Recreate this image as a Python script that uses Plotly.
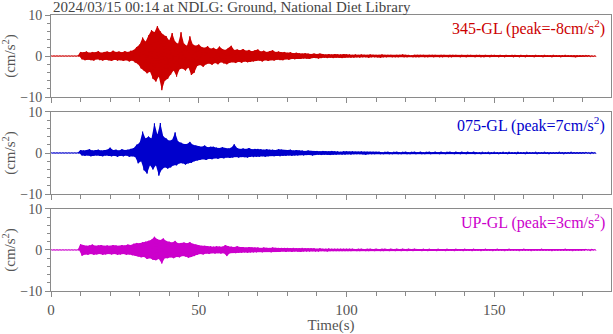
import plotly.graph_objects as go
from plotly.subplots import make_subplots

# ---------------- data ----------------
# per-second positive and negative peak amplitudes (cm/s^2), t = 0..184 s
seconds = list(range(185))

ns_up = [
    0.05, 0.05, 0.05, 0.05, 0.05, 0.05, 0.05, 0.05, 0.05, 0.05,
    1.0, 0.9, 1.1, 0.8, 1.0, 0.9, 1.2, 0.8, 1.0, 1.1,
    0.9, 1.3, 1.0, 1.1, 0.9, 1.2, 1.0, 1.3, 1.5, 2.2,
    2.8, 4.5, 3.5, 5.0, 6.3, 5.8, 7.3, 6.0, 5.2, 4.8,
    3.8, 5.6, 3.5, 3.0, 5.8, 3.0, 2.5, 4.8, 2.8, 2.5,
    2.8, 2.2, 2.0, 2.4, 1.8, 2.0, 1.6, 2.3, 1.7, 1.5,
    1.9, 2.5, 1.5, 1.6, 1.4, 1.7, 1.3, 1.5, 1.2, 1.4,
    1.6, 1.1, 1.3, 1.0, 1.2, 1.4, 1.0, 1.1, 0.9, 1.0,
    0.8, 0.9, 0.7, 0.8, 0.7, 0.6, 0.7, 0.6, 0.5, 0.6,
    0.5, 0.6, 0.5, 0.4, 0.5, 0.4, 0.5, 0.4, 0.4, 0.5,
    0.4, 0.4, 0.3, 0.4, 0.3, 0.4, 0.3, 0.3, 0.4, 0.3,
    0.3, 0.3, 0.4, 0.3, 0.3, 0.3, 0.2, 0.3, 0.3, 0.4,
    0.3, 0.3, 0.2, 0.3, 0.3, 0.3, 0.3, 0.2, 0.3, 0.3,
    0.3, 0.2, 0.3, 0.3, 0.2, 0.3, 0.3, 0.3, 0.2, 0.3,
    0.2, 0.3, 0.3, 0.2, 0.3, 0.3, 0.2, 0.3, 0.2, 0.3,
    0.3, 0.2, 0.3, 0.2, 0.3, 0.2, 0.3, 0.3, 0.2, 0.3,
    0.2, 0.3, 0.2, 0.2, 0.3, 0.2, 0.2, 0.3, 0.2, 0.2,
    0.3, 0.2, 0.2, 0.2, 0.3, 0.2, 0.2, 0.2, 0.2, 0.2,
    0.2, 0.2, 0.2, 0.1, 0.1,
]
ns_down = [
    0.05, 0.05, 0.05, 0.05, 0.05, 0.05, 0.05, 0.05, 0.05, 0.05,
    0.8, 1.0, 0.9, 1.0, 1.1, 0.8, 1.0, 1.1, 0.9, 1.0,
    1.2, 0.9, 1.1, 1.0, 1.2, 1.0, 1.3, 1.1, 1.6, 2.0,
    3.0, 3.5, 4.2, 3.8, 5.5, 6.2, 5.0, 8.3, 6.0, 5.5,
    4.5, 3.5, 5.0, 3.2, 3.0, 3.5, 2.8, 4.6, 4.0, 2.4,
    2.2, 2.6, 2.0, 1.8, 2.1, 1.7, 2.0, 1.5, 1.8, 2.0,
    1.6, 1.5, 1.7, 1.4, 1.6, 1.3, 1.5, 1.4, 1.3, 1.2,
    1.1, 1.3, 1.0, 1.2, 1.0, 1.1, 0.9, 1.0, 1.0, 0.8,
    0.9, 0.7, 0.8, 0.7, 0.7, 0.6, 0.6, 0.7, 0.5, 0.5,
    0.6, 0.5, 0.4, 0.5, 0.4, 0.5, 0.4, 0.4, 0.5, 0.4,
    0.3, 0.4, 0.4, 0.3, 0.4, 0.3, 0.3, 0.4, 0.3, 0.3,
    0.3, 0.4, 0.3, 0.3, 0.2, 0.3, 0.3, 0.3, 0.2, 0.3,
    0.3, 0.2, 0.3, 0.3, 0.3, 0.2, 0.3, 0.3, 0.2, 0.3,
    0.2, 0.3, 0.3, 0.2, 0.3, 0.3, 0.2, 0.2, 0.3, 0.2,
    0.3, 0.2, 0.2, 0.3, 0.2, 0.3, 0.3, 0.2, 0.3, 0.2,
    0.2, 0.3, 0.2, 0.3, 0.2, 0.2, 0.3, 0.2, 0.3, 0.2,
    0.3, 0.2, 0.2, 0.3, 0.2, 0.2, 0.3, 0.2, 0.2, 0.3,
    0.2, 0.2, 0.3, 0.2, 0.2, 0.2, 0.2, 0.3, 0.2, 0.2,
    0.2, 0.1, 0.2, 0.1, 0.1,
]

ew_up = [
    0.05, 0.05, 0.05, 0.05, 0.05, 0.05, 0.05, 0.05, 0.05, 0.05,
    0.7, 0.6, 0.7, 0.9, 0.6, 0.7, 0.8, 0.6, 0.7, 0.8,
    1.3, 0.7, 0.8, 0.6, 0.9, 0.7, 0.8, 1.0, 1.2, 2.0,
    2.5, 5.2, 3.5, 4.0, 3.5, 7.2, 4.5, 7.3, 4.0, 3.5,
    3.0, 3.2, 5.0, 2.8, 2.5, 2.2, 2.2, 2.7, 2.0, 1.8,
    1.7, 1.5, 1.8, 1.4, 1.5, 1.5, 1.3, 1.2, 1.4, 1.2,
    1.1, 1.3, 2.1, 1.2, 1.0, 1.1, 1.0, 1.2, 0.9, 1.0,
    1.0, 0.9, 0.8, 0.9, 0.8, 0.8, 0.7, 0.9, 0.8, 0.7,
    0.7, 0.8, 0.6, 0.7, 0.6, 0.6, 0.5, 0.6, 0.5, 0.5,
    0.5, 0.4, 0.5, 0.4, 0.4, 0.5, 0.4, 0.4, 0.3, 0.4,
    0.4, 0.3, 0.4, 0.3, 0.3, 0.4, 0.3, 0.3, 0.3, 0.3,
    0.3, 0.3, 0.2, 0.3, 0.3, 0.2, 0.3, 0.3, 0.2, 0.3,
    0.3, 0.2, 0.3, 0.3, 0.2, 0.3, 0.2, 0.3, 0.3, 0.2,
    0.3, 0.2, 0.3, 0.2, 0.3, 0.3, 0.2, 0.3, 0.2, 0.3,
    0.2, 0.3, 0.2, 0.3, 0.2, 0.2, 0.3, 0.2, 0.3, 0.2,
    0.3, 0.2, 0.2, 0.3, 0.2, 0.3, 0.2, 0.2, 0.3, 0.2,
    0.2, 0.3, 0.2, 0.2, 0.3, 0.2, 0.2, 0.3, 0.2, 0.2,
    0.2, 0.2, 0.3, 0.2, 0.2, 0.2, 0.3, 0.2, 0.2, 0.2,
    0.2, 0.2, 0.1, 0.2, 0.1,
]
ew_down = [
    0.05, 0.05, 0.05, 0.05, 0.05, 0.05, 0.05, 0.05, 0.05, 0.05,
    0.6, 0.7, 0.6, 0.8, 0.7, 0.6, 0.7, 0.8, 0.6, 0.7,
    0.8, 0.7, 0.9, 0.7, 0.8, 0.6, 0.9, 0.8, 1.0, 2.5,
    2.0, 4.2, 5.0, 3.0, 4.0, 3.0, 5.5, 4.0, 3.5, 3.8,
    3.5, 3.0, 3.0, 2.5, 2.5, 2.8, 2.5, 2.4, 2.0, 1.8,
    1.6, 1.5, 1.7, 1.4, 1.5, 1.3, 1.4, 1.2, 1.3, 1.1,
    1.2, 1.1, 1.0, 1.1, 1.0, 1.0, 1.1, 0.9, 1.0, 0.9,
    0.9, 0.8, 0.9, 0.8, 0.7, 0.8, 0.7, 0.8, 0.7, 0.7,
    0.6, 0.7, 0.6, 0.6, 0.5, 0.6, 0.5, 0.5, 0.6, 0.5,
    0.4, 0.5, 0.4, 0.4, 0.5, 0.4, 0.4, 0.3, 0.4, 0.4,
    0.3, 0.4, 0.3, 0.3, 0.3, 0.3, 0.4, 0.3, 0.3, 0.3,
    0.2, 0.3, 0.3, 0.2, 0.3, 0.3, 0.2, 0.3, 0.3, 0.2,
    0.3, 0.3, 0.2, 0.3, 0.2, 0.3, 0.3, 0.2, 0.3, 0.2,
    0.2, 0.3, 0.2, 0.3, 0.2, 0.2, 0.3, 0.2, 0.3, 0.2,
    0.3, 0.2, 0.2, 0.3, 0.2, 0.3, 0.2, 0.2, 0.3, 0.2,
    0.2, 0.3, 0.2, 0.2, 0.3, 0.2, 0.2, 0.3, 0.2, 0.2,
    0.3, 0.2, 0.2, 0.2, 0.3, 0.2, 0.2, 0.2, 0.3, 0.2,
    0.2, 0.2, 0.2, 0.3, 0.2, 0.2, 0.2, 0.2, 0.2, 0.2,
    0.2, 0.1, 0.2, 0.1, 0.1,
]

ud_up = [
    0.05, 0.05, 0.05, 0.05, 0.05, 0.05, 0.05, 0.05, 0.05, 0.05,
    1.4, 1.2, 1.0, 1.1, 1.3, 1.0, 1.1, 1.2, 1.0, 1.1,
    1.0, 1.2, 1.1, 1.0, 1.2, 1.1, 1.3, 1.2, 1.5, 1.7,
    1.6, 1.9, 2.0, 2.2, 2.5, 3.2, 2.6, 2.4, 2.8, 2.2,
    2.0, 1.8, 2.2, 1.6, 1.7, 1.8, 1.6, 1.9, 1.5, 1.3,
    1.1, 1.0, 1.0, 0.9, 0.9, 0.8, 0.9, 0.8, 0.8, 1.2,
    0.9, 0.8, 0.7, 0.9, 0.7, 0.7, 0.6, 0.7, 0.6, 0.6,
    0.6, 0.5, 0.6, 0.5, 0.5, 0.6, 0.5, 0.5, 0.5, 0.5,
    0.5, 0.4, 0.5, 0.4, 0.4, 0.5, 0.4, 0.4, 0.4, 0.4,
    0.3, 0.4, 0.3, 0.3, 0.4, 0.3, 0.3, 0.3, 0.3, 0.3,
    0.3, 0.3, 0.3, 0.2, 0.3, 0.3, 0.2, 0.3, 0.3, 0.2,
    0.3, 0.2, 0.3, 0.3, 0.2, 0.3, 0.2, 0.3, 0.2, 0.3,
    0.2, 0.3, 0.2, 0.3, 0.2, 0.2, 0.3, 0.2, 0.3, 0.2,
    0.2, 0.3, 0.2, 0.2, 0.3, 0.2, 0.2, 0.3, 0.2, 0.2,
    0.3, 0.2, 0.2, 0.3, 0.2, 0.2, 0.2, 0.3, 0.2, 0.2,
    0.2, 0.3, 0.2, 0.2, 0.2, 0.3, 0.2, 0.2, 0.2, 0.2,
    0.3, 0.2, 0.2, 0.2, 0.2, 0.2, 0.3, 0.2, 0.2, 0.2,
    0.2, 0.2, 0.2, 0.2, 0.3, 0.2, 0.2, 0.2, 0.2, 0.2,
    0.2, 0.2, 0.1, 0.2, 0.1,
]
ud_down = [
    0.05, 0.05, 0.05, 0.05, 0.05, 0.05, 0.05, 0.05, 0.05, 0.05,
    1.4, 1.1, 1.2, 1.0, 1.2, 1.1, 1.0, 1.2, 1.1, 1.0,
    1.1, 1.0, 1.2, 1.1, 1.0, 1.2, 1.1, 1.3, 1.4, 1.6,
    1.8, 1.7, 2.2, 2.0, 2.4, 2.5, 2.2, 3.3, 2.0, 2.0,
    1.8, 2.0, 1.7, 1.8, 1.5, 1.6, 1.9, 1.7, 1.5, 1.2,
    1.0, 1.1, 0.9, 1.0, 0.8, 0.9, 0.8, 0.9, 0.8, 1.5,
    0.8, 0.7, 0.8, 0.7, 0.7, 0.6, 0.7, 0.6, 0.6, 0.6,
    0.5, 0.6, 0.5, 0.5, 0.6, 0.5, 0.5, 0.5, 0.4, 0.5,
    0.4, 0.5, 0.4, 0.4, 0.5, 0.4, 0.4, 0.4, 0.3, 0.4,
    0.4, 0.3, 0.3, 0.4, 0.3, 0.3, 0.3, 0.3, 0.3, 0.3,
    0.3, 0.3, 0.2, 0.3, 0.3, 0.2, 0.3, 0.3, 0.2, 0.3,
    0.2, 0.3, 0.3, 0.2, 0.3, 0.2, 0.3, 0.2, 0.3, 0.2,
    0.3, 0.2, 0.3, 0.2, 0.2, 0.3, 0.2, 0.3, 0.2, 0.2,
    0.3, 0.2, 0.2, 0.3, 0.2, 0.2, 0.3, 0.2, 0.2, 0.3,
    0.2, 0.2, 0.3, 0.2, 0.2, 0.3, 0.2, 0.2, 0.2, 0.3,
    0.2, 0.2, 0.2, 0.3, 0.2, 0.2, 0.2, 0.2, 0.3, 0.2,
    0.2, 0.2, 0.3, 0.2, 0.2, 0.2, 0.2, 0.2, 0.2, 0.3,
    0.2, 0.2, 0.2, 0.2, 0.2, 0.2, 0.3, 0.2, 0.2, 0.2,
    0.2, 0.1, 0.2, 0.1, 0.1,
]

components = ["345-GL", "075-GL", "UP-GL"]
peaks = [-8, 7, 3]
colors = ["#cc0000", "#0000cc", "#cc00cc"]
ups = [ns_up, ew_up, ud_up]
downs = [ns_down, ew_down, ud_down]

title_text = "2024/03/15 00:14 at NDLG: Ground, National Diet Library"
x_tickvals = [0, 50, 100, 150]
y_tickvals = [-10, 0, 10]

# ---------------- figure ----------------
FONT = "Liberation Serif"
AXC = "#8a8a8a"
TXC = "#555555"

fig = make_subplots(rows=3, cols=1, shared_xaxes=False, vertical_spacing=0.0536)

for i in range(3):
    # filled silhouette of the trace (envelope of the peaks)
    env_x = [t for t in seconds] + [t + 0.5 for t in reversed(seconds)]
    env_y = list(ups[i]) + [-d for d in reversed(downs[i])]
    fig.add_trace(go.Scatter(x=env_x, y=env_y, mode="lines", fill="toself",
                             fillcolor=colors[i], line=dict(width=0),
                             showlegend=False, hoverinfo="skip"),
                  row=i + 1, col=1)
    # zig-zag through the peaks
    xs, ys = [], []
    for t, u, d in zip(seconds, ups[i], downs[i]):
        xs += [t, t + 0.5]
        ys += [u, -d]
    fig.add_trace(go.Scatter(x=xs, y=ys, mode="lines",
                             line=dict(color=colors[i], width=1),
                             showlegend=False, hoverinfo="skip"),
                  row=i + 1, col=1)
    fig.update_xaxes(range=[0, 189.5], tickvals=x_tickvals,
                     showticklabels=(i == 2),
                     ticks="outside", ticklen=5, tickcolor=AXC,
                     minor=dict(dtick=10, ticks="outside", ticklen=4, tickcolor=AXC),
                     showline=True, mirror=True, linecolor=AXC, linewidth=1,
                     showgrid=False, zeroline=False,
                     tickfont=dict(family=FONT, size=15, color=TXC),
                     row=i + 1, col=1)
    fig.update_yaxes(range=[-10, 10], tickvals=y_tickvals,
                     ticks="outside", ticklen=5, tickcolor=AXC,
                     minor=dict(dtick=2, ticks="outside", ticklen=3, tickcolor=AXC),
                     showline=True, mirror=True, linecolor=AXC, linewidth=1,
                     showgrid=False, zeroline=False,
                     tickfont=dict(family=FONT, size=14, color=TXC),
                     title=dict(text="(cm/s<sup>2</sup>)", standoff=6,
                                font=dict(family=FONT, size=15, color=TXC)),
                     row=i + 1, col=1)
    yref = "y domain" if i == 0 else f"y{i+1} domain"
    xref = "x domain" if i == 0 else f"x{i+1} domain"
    fig.add_annotation(x=0.992, y=1, xref=xref, yref=yref,
                       xanchor="right", yanchor="top", showarrow=False,
                       text=f"{components[i]} (peak={peaks[i]}cm/s<sup>2</sup>)",
                       font=dict(family=FONT, size=16, color=colors[i]))

fig.update_xaxes(title=dict(text="Time(s)", standoff=4,
                            font=dict(family=FONT, size=15, color=TXC)),
                 row=3, col=1)

fig.add_annotation(x=0, y=1, xref="paper", yref="paper", xanchor="left",
                   yanchor="bottom", showarrow=False, text=title_text,
                   yshift=-2,
                   font=dict(family=FONT, size=15, color="#444444"))

fig.update_layout(width=613, height=334,
                  margin=dict(l=51, r=1, t=15, b=39),
                  paper_bgcolor="white", plot_bgcolor="white")

fig.write_html("out.html")
